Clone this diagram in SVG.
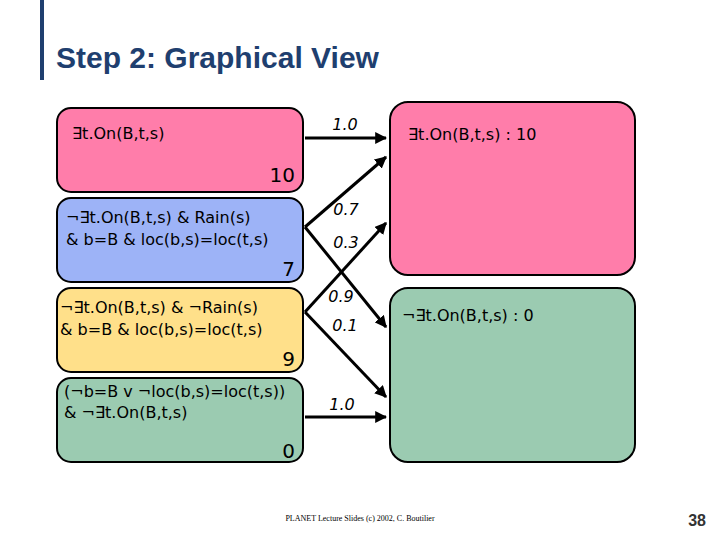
<svg xmlns="http://www.w3.org/2000/svg" width="720" height="540" viewBox="0 0 720 540">
<style>
.b{stroke:#000;stroke-width:2}
.t{font-family:"DejaVu Sans",sans-serif;font-size:16px;fill:#000}
.n{font-family:"DejaVu Sans",sans-serif;font-size:20px;fill:#000;text-anchor:end}
.p{font-family:"DejaVu Sans",sans-serif;font-size:16px;font-style:italic;fill:#000;text-anchor:middle}
.c{stroke:#000;stroke-width:3;fill:none}
</style>
<defs><marker id="a" viewBox="0 0 10 10" refX="9" refY="5" markerWidth="4" markerHeight="4" orient="auto"><path d="M0,0L10,5L0,10z" fill="#000"/></marker></defs>
<rect x="40" y="0" width="4" height="80" fill="#1f3f6f"/>
<text x="56" y="68" font-family="Liberation Sans,Arial,sans-serif" font-weight="bold" font-size="30" fill="#1f3f6f">Step 2: Graphical View</text>
<g id="n1"><rect class="b" x="57" y="108" width="246" height="84" rx="14" fill="#ff7daa"/><text class="t" x="72" y="139">∃t.On(B,t,s)</text><text class="n" x="295" y="182">10</text></g>
<g id="n2"><rect class="b" x="57" y="198" width="246" height="84" rx="14" fill="#9db3f7"/><text class="t" x="66" y="223">¬∃t.On(B,t,s) &amp; Rain(s)</text><text class="t" x="66" y="245">&amp; b=B &amp; loc(b,s)=loc(t,s)</text><text class="n" x="295" y="276">7</text></g>
<g id="n3"><rect class="b" x="57" y="288" width="246" height="84" rx="14" fill="#ffe08a"/><text class="t" x="60" y="313">¬∃t.On(B,t,s) &amp; ¬Rain(s)</text><text class="t" x="60" y="335">&amp; b=B &amp; loc(b,s)=loc(t,s)</text><text class="n" x="295" y="366">9</text></g>
<g id="n4"><rect class="b" x="57" y="378" width="246" height="84" rx="14" fill="#9bcbb1"/><text class="t" x="64" y="397">(¬b=B v ¬loc(b,s)=loc(t,s))</text><text class="t" x="64" y="418">&amp; ¬∃t.On(B,t,s)</text><text class="n" x="295" y="458">0</text></g>
<g id="r1"><rect class="b" x="390" y="102" width="245" height="173" rx="18" fill="#ff7daa"/><text class="t" x="408" y="140" font-size="18">∃t.On(B,t,s) : 10</text></g>
<g id="r2"><rect class="b" x="390" y="288" width="245" height="174" rx="18" fill="#9bcbb1"/><text class="t" x="402" y="321" font-size="18">¬∃t.On(B,t,s) : 0</text></g>
<g id="connectors">
<line class="c" x1="305" y1="138" x2="386" y2="138" marker-end="url(#a)"/>
<line class="c" x1="305" y1="227" x2="386" y2="157" marker-end="url(#a)"/>
<line class="c" x1="305" y1="227" x2="386" y2="327" marker-end="url(#a)"/>
<line class="c" x1="305" y1="312" x2="386" y2="223" marker-end="url(#a)"/>
<line class="c" x1="305" y1="312" x2="386" y2="397" marker-end="url(#a)"/>
<line class="c" x1="305" y1="417" x2="386" y2="417" marker-end="url(#a)"/>
<text class="p" x="345" y="130">1.0</text>
<text class="p" x="346" y="215">0.7</text>
<text class="p" x="346" y="248">0.3</text>
<text class="p" x="341" y="302">0.9</text>
<text class="p" x="345" y="331">0.1</text>
<text class="p" x="342" y="410">1.0</text>
</g>
<text x="360" y="521" text-anchor="middle" font-family="Liberation Serif,serif" font-size="8">PLANET Lecture Slides (c) 2002, C. Boutilier</text>
<text x="706" y="526" text-anchor="end" font-family="Liberation Sans,sans-serif" font-weight="bold" font-size="16" fill="#333">38</text>
</svg>
